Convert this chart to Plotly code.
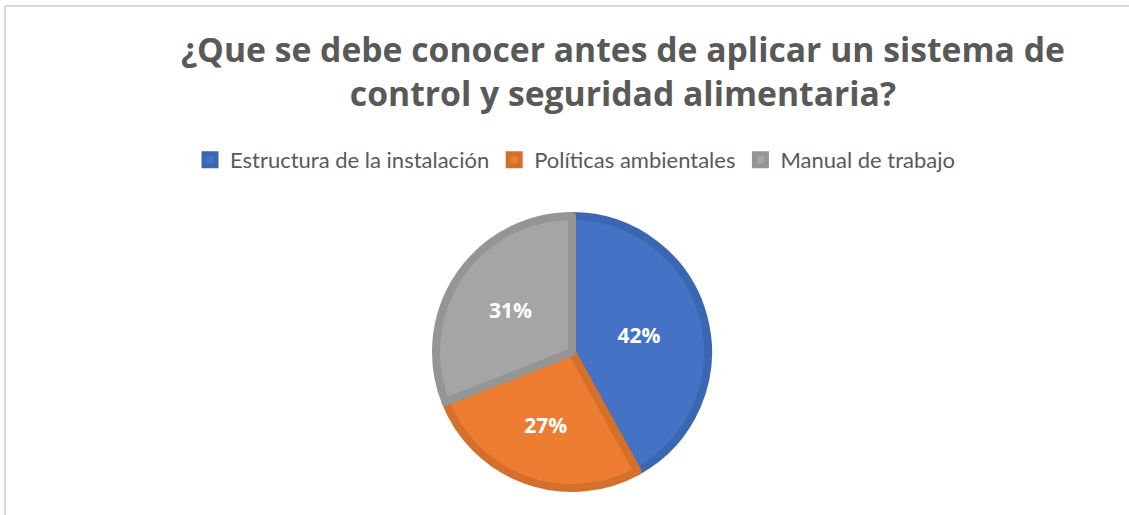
import plotly.graph_objects as go

W, H = 1129, 515

labels = ["Estructura de la instalación", "Políticas ambientales", "Manual de trabajo"]
values = [42, 27, 31]
fill_colors = ["#4472C4", "#ED7D31", "#A5A5A5"]
border_colors = ["#3B66B2", "#D46F2C", "#959595"]
title_text = "¿Que se debe conocer antes de aplicar un sistema de<br>control y seguridad alimentaria?"

cx, cy, r = 572, 352, 136

fig = go.Figure(go.Pie(
    labels=labels,
    values=values,
    sort=False,
    direction="clockwise",
    rotation=0,
    marker=dict(colors=fill_colors, line=dict(color=border_colors, width=8)),
    textinfo="percent",
    texttemplate="%{percent:.0%}",
    textposition="inside",
    insidetextorientation="horizontal",
    textfont=dict(family="Open Sans", size=21, color="white", weight="bold"),
    domain=dict(x=[(cx - r) / W, (cx + r) / W], y=[1 - (cy + r) / H, 1 - (cy - r) / H]),
    hoverinfo="label+percent",
))

fig.update_layout(
    width=W, height=H,
    margin=dict(l=0, r=0, t=0, b=0),
    paper_bgcolor="white",
    plot_bgcolor="white",
    showlegend=True,
    legend=dict(
        orientation="h",
        x=575 / W, xanchor="center",
        y=1 - 160 / H, yanchor="middle",
        font=dict(family="Lato", size=22, color="#595959"),
        itemwidth=30,
        traceorder="normal",
    ),
    annotations=[dict(
        text=title_text,
        x=623 / W, y=1 - 24 / H, xref="paper", yref="paper",
        xanchor="center", yanchor="top",
        showarrow=False,
        font=dict(family="Open Sans", size=33.7, color="#595959", weight="bold"),
        align="center",
    )],
    shapes=[
        dict(type="line", xref="paper", yref="paper", x0=5 / W, x1=1, y0=1 - 6 / H, y1=1 - 6 / H,
             line=dict(color="#D9D9D9", width=2)),
        dict(type="line", xref="paper", yref="paper", x0=5 / W, x1=5 / W, y0=0, y1=1 - 6 / H,
             line=dict(color="#D9D9D9", width=2)),
    ],
)

fig.write_html("out.html", config={"displayModeBar": False},
               post_script="document.body.style.margin='0';")
